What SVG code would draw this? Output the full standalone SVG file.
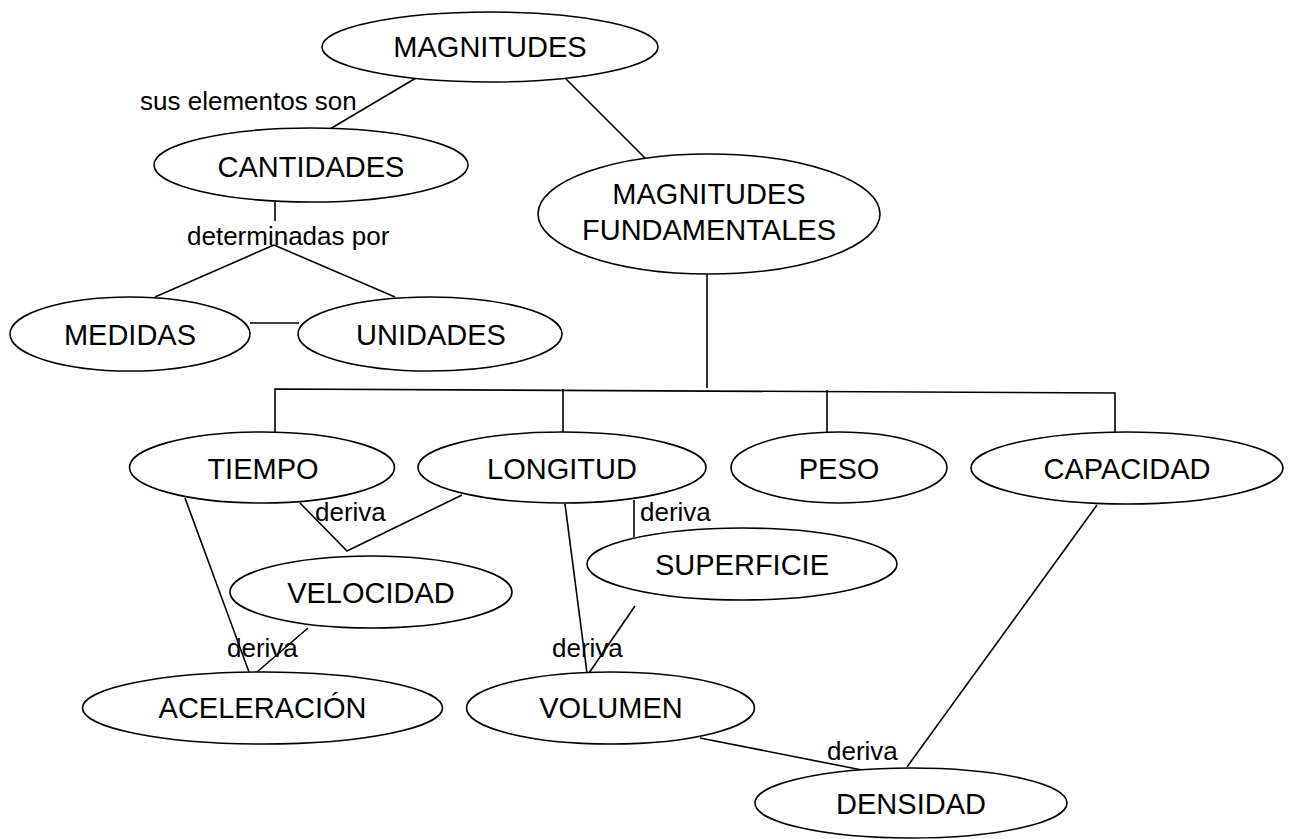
<svg xmlns="http://www.w3.org/2000/svg" width="1290" height="839" viewBox="0 0 1290 839">
<style>
.n ellipse{fill:#fff;stroke:#000;stroke-width:1.6}
.n text{font-family:"Liberation Sans",Arial,sans-serif;font-size:29px;fill:#000;text-anchor:middle}
#connectors line,#connectors polyline{stroke:#000;stroke-width:1.6;fill:none}
.lbl{font-family:"Liberation Sans",Arial,sans-serif;font-size:26px;fill:#000}
</style>
<rect width="1290" height="839" fill="#fff"/>
<g id="connectors">
<line x1="416" y1="78" x2="330" y2="129"/>
<line x1="566" y1="79" x2="647" y2="160"/>
<line x1="275" y1="202" x2="275" y2="221"/>
<line x1="274" y1="245" x2="155" y2="297"/>
<line x1="274" y1="245" x2="395" y2="297"/>
<line x1="250" y1="323" x2="299" y2="323"/>
<line x1="707" y1="274" x2="707" y2="388"/>
<polyline points="275,432 275,389 1115,393 1115,432"/>
<line x1="563" y1="389" x2="563" y2="432"/>
<line x1="827" y1="390" x2="827" y2="432"/>
<polyline points="300,503 347,551 462,495"/>
<line x1="185" y1="498" x2="249" y2="672"/>
<line x1="308" y1="628" x2="257" y2="672"/>
<line x1="565" y1="504" x2="587" y2="673"/>
<line x1="634" y1="500" x2="634" y2="537"/>
<line x1="635" y1="606" x2="589" y2="673"/>
<line x1="1097" y1="505" x2="907" y2="767"/>
<line x1="700" y1="738" x2="862" y2="770"/>
</g>
<g id="labels">
<text class="lbl" x="140" y="110">sus elementos son</text>
<text class="lbl" x="187" y="245">determinadas por</text>
<text class="lbl" x="315" y="521">deriva</text>
<text class="lbl" x="640" y="521">deriva</text>
<text class="lbl" x="227" y="657">deriva</text>
<text class="lbl" x="552" y="657">deriva</text>
<text class="lbl" x="827" y="760">deriva</text>
</g>
<g id="magnitudes" class="n"><ellipse cx="490" cy="47" rx="168" ry="35"/><text x="490" y="57">MAGNITUDES</text></g>
<g id="cantidades" class="n"><ellipse cx="311" cy="165" rx="157" ry="37"/><text x="311" y="177">CANTIDADES</text></g>
<g id="fundamentales" class="n"><ellipse cx="709" cy="214" rx="171" ry="60"/><text x="709" y="204">MAGNITUDES</text><text x="709" y="240">FUNDAMENTALES</text></g>
<g id="medidas" class="n"><ellipse cx="130" cy="334" rx="120" ry="37"/><text x="130" y="345">MEDIDAS</text></g>
<g id="unidades" class="n"><ellipse cx="430" cy="334" rx="132" ry="37"/><text x="431" y="345">UNIDADES</text></g>
<g id="tiempo" class="n"><ellipse cx="262" cy="467.5" rx="132.5" ry="35.5"/><text x="263" y="479">TIEMPO</text></g>
<g id="longitud" class="n"><ellipse cx="562" cy="467.5" rx="144" ry="35.5"/><text x="562" y="479">LONGITUD</text></g>
<g id="peso" class="n"><ellipse cx="839" cy="467.5" rx="108" ry="35.5"/><text x="839" y="479">PESO</text></g>
<g id="capacidad" class="n"><ellipse cx="1127" cy="468" rx="156" ry="36"/><text x="1127" y="479">CAPACIDAD</text></g>
<g id="superficie" class="n"><ellipse cx="742" cy="564" rx="155" ry="36"/><text x="742" y="575">SUPERFICIE</text></g>
<g id="velocidad" class="n"><ellipse cx="371" cy="592" rx="141" ry="36"/><text x="371" y="603">VELOCIDAD</text></g>
<g id="aceleracion" class="n"><ellipse cx="262.5" cy="708" rx="180" ry="36"/><text x="262.5" y="718">ACELERACIÓN</text></g>
<g id="volumen" class="n"><ellipse cx="610.5" cy="708" rx="144" ry="36"/><text x="611" y="718">VOLUMEN</text></g>
<g id="densidad" class="n"><ellipse cx="911" cy="803" rx="156" ry="35"/><text x="911" y="814">DENSIDAD</text></g>
</svg>
